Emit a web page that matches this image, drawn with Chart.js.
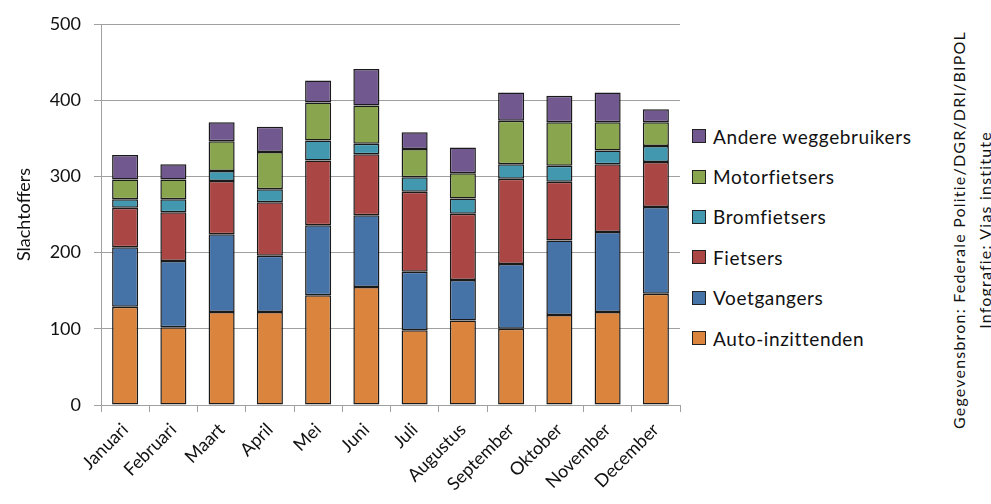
<!DOCTYPE html>
<html>
<head>
<meta charset="utf-8">
<script src="https://cdn.jsdelivr.net/npm/chart.js@4"></script>
<style>
  body { margin: 0; background: #fff; font-family: Lato, "Noto Sans", sans-serif; }
  #wrap { position: relative; width: 991px; height: 504px; }
  #chartBox { position: absolute; left: 0; top: 0; width: 690px; height: 504px; }
  #legend { position: absolute; left: 692px; top: 116px; }
  .item { display: flex; align-items: center; height: 40.4px; font-size: 19px; letter-spacing: 0.6px; color: #111; }
  .box { width: 12px; height: 12px; border: 1px solid #222; margin-right: 7px; }
  .src { position: absolute; font-size: 16px; letter-spacing: 1.2px; color: #111; white-space: nowrap;
         transform-origin: center center; transform: translate(-50%, -50%) rotate(-90deg); }
</style>
</head>
<body>
<div id="wrap">
  <div id="chartBox"><canvas id="chart"></canvas></div>
  <div id="legend"></div>
  <div class="src" style="left:958px; top:230px;">Gegevensbron: Federale Politie/DGR/DRI/BIPOL</div>
  <div class="src" style="left:984px; top:230px;">Infografie: Vias institute</div>
</div>
<script>
const months = ['Januari', 'Februari', 'Maart', 'April', 'Mei', 'Juni', 'Juli', 'Augustus', 'September', 'Oktober', 'November', 'December'];

const autoInzittenden = [129, 102, 122, 122, 144, 155, 98, 111, 100, 118, 122, 146];
const voetgangers = [78, 87, 102, 74, 92, 94, 77, 53, 85, 98, 105, 114];
const fietsers = [52, 64, 70, 70, 85, 80, 105, 87, 112, 77, 89, 59];
const bromfietsers = [11, 17, 13, 17, 26, 14, 19, 20, 19, 21, 18, 21];
const motorfietsers = [26, 26, 39, 49, 50, 50, 37, 33, 57, 57, 37, 31];
const andere = [32, 20, 25, 33, 29, 48, 22, 34, 37, 35, 39, 17];

const series = [
  { label: 'Auto-inzittenden', data: autoInzittenden, color: '#db843d' },
  { label: 'Voetgangers', data: voetgangers, color: '#4572a7' },
  { label: 'Fietsers', data: fietsers, color: '#aa4643' },
  { label: 'Bromfietsers', data: bromfietsers, color: '#4198af' },
  { label: 'Motorfietsers', data: motorfietsers, color: '#89a54e' },
  { label: 'Andere weggebruikers', data: andere, color: '#71588f' },
];

const legendEl = document.getElementById('legend');
series.slice().reverse().forEach((s) => {
  const row = document.createElement('div');
  row.className = 'item';
  row.innerHTML = `<span class="box" style="background:${s.color}"></span>${s.label}`;
  legendEl.appendChild(row);
});

const gridColor = '#a0a0a0';
const font = 'Lato, "Noto Sans", sans-serif';

new Chart(document.getElementById('chart'), {
  type: 'bar',
  data: {
    labels: months,
    datasets: series.map((s) => ({
      label: s.label,
      data: s.data,
      backgroundColor: s.color,
      borderColor: '#1a1a1a',
      borderWidth: 1.5,
      borderSkipped: false,
      barPercentage: 0.54,
      categoryPercentage: 1,
    })),
  },
  options: {
    responsive: true,
    maintainAspectRatio: false,
    animation: false,
    layout: { padding: { top: 24, right: 10, left: 13, bottom: 0 } },
    plugins: { legend: { display: false }, tooltip: { enabled: false } },
    scales: {
      x: {
        stacked: true,
        grid: { offset: true, drawOnChartArea: false, tickLength: 7, color: gridColor },
        border: { color: gridColor },
        ticks: { font: { family: font, size: 18 }, color: '#111', maxRotation: 45, minRotation: 45, padding: 7 },
        afterFit: (s) => { s.height = 99; },
      },
      y: {
        stacked: true,
        min: 0,
        max: 500,
        ticks: { stepSize: 100, font: { family: font, size: 18 }, color: '#111', padding: 13 },
        grid: { color: gridColor, tickLength: 7 },
        border: { color: gridColor },
        title: { display: true, text: 'Slachtoffers', font: { family: font, size: 18 }, color: '#111', padding: { top: 0, bottom: 0 } },
        afterFit: (s) => { s.width = 88; },
      },
    },
  },
});
</script>
</body>
</html>
